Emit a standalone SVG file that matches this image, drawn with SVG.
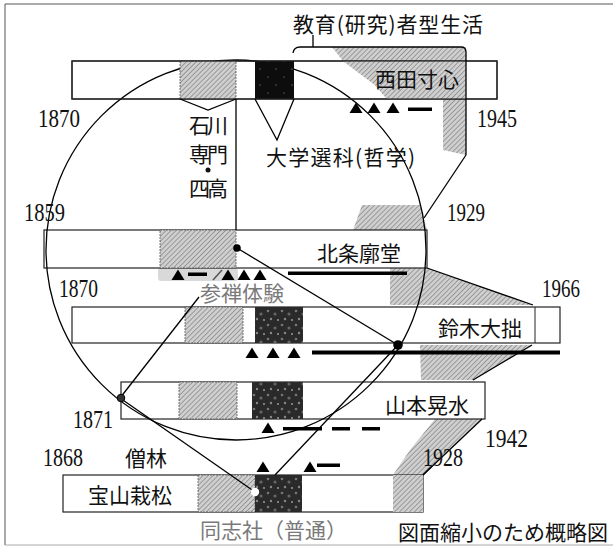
<svg xmlns="http://www.w3.org/2000/svg" width="613" height="547" viewBox="0 0 613 547">
<defs>
<pattern id="hatch" width="3.5" height="3.5" patternUnits="userSpaceOnUse" patternTransform="rotate(45)">
<rect width="3.5" height="3.5" fill="#cfcfcf"/>
<line x1="0" y1="0" x2="0" y2="3.5" stroke="#7d7d7d" stroke-width="1.3"/>
</pattern>
<pattern id="speck" width="14" height="14" patternUnits="userSpaceOnUse">
<rect width="14" height="14" fill="#2a2a2a"/>
<circle cx="2" cy="3" r="1.3" fill="#777"/>
<circle cx="9" cy="6" r="1.6" fill="#666"/>
<circle cx="5" cy="11" r="1.2" fill="#888"/>
<circle cx="12" cy="12" r="1" fill="#999"/>
</pattern>
<pattern id="speck2" width="16" height="16" patternUnits="userSpaceOnUse">
<rect width="16" height="16" fill="#0d0d0d"/>
<circle cx="4" cy="5" r="0.6" fill="#aaa"/>
<circle cx="12" cy="13" r="0.5" fill="#bbb"/>
</pattern>
<path id="tri" d="M0,-5.5 L6.5,5 L-6.5,5 Z" fill="#000"/>
</defs>
<style>
.bar{fill:#fff;stroke:#222;stroke-width:1.2}
.hb{fill:url(#hatch);stroke:#555;stroke-width:0.8;stroke-dasharray:2 1}
.zone{fill:url(#hatch);stroke:none}
.blk{fill:url(#speck);stroke:none}
.ln{fill:none;stroke:#000;stroke-width:1.3}
.dash{fill:#000}
.jp{font-family:"Noto Sans CJK JP","Noto Sans CJK SC",sans-serif;font-size:21px;fill:#111}
.num{font-family:"Liberation Serif",serif;font-size:26px;fill:#111}
.gr{fill:#7a7a7a}
</style>

<!-- frame -->
<g id="frame" fill="none" stroke="#555" stroke-width="1">
<line x1="5" y1="4" x2="613" y2="4"/>
<line x1="5" y1="4" x2="5" y2="545"/>
<line x1="5" y1="545" x2="613" y2="545" stroke="#aaa"/>
</g>

<!-- educational life zones -->
<g id="zones">
<polygon class="zone" points="332,47 466,47 466,155 443,150 443,99 387,99 375,85 343,61"/>
<polygon class="zone" points="362,205 420,205 427,230 353,230"/>
<polygon class="zone" points="390,268 427,268 533,305 390,305"/>
<polygon class="zone" points="420,345 532,345 473,380 421,380"/>
<polygon class="zone" points="435,419 482,419 423,475 423,512 393,512 393,475 410,450"/>
<rect x="158" y="268" width="80" height="13" rx="3" fill="#d9d9d9"/>
</g>

<!-- bars -->
<g id="node-nishida">
<rect class="bar" x="72" y="61" width="425" height="38" fill-opacity="0"/>
</g>
<g id="node-hojo">
<rect class="bar" x="44" y="230" width="383" height="38"/>
</g>
<g id="node-suzuki">
<rect class="bar" x="72" y="307" width="488" height="36"/>
<line x1="535" y1="307" x2="535" y2="343" stroke="#222" stroke-width="1"/>
</g>
<g id="node-yamamoto">
<rect class="bar" x="121" y="382" width="364" height="37"/>
</g>
<g id="node-hozan">
<rect class="bar" x="63" y="475" width="360" height="37"/>
</g>

<!-- zone parts inside bars -->
<g id="zones-over">
<polygon class="zone" points="343,61 466,61 466,99 387,99 375,85"/>
<rect class="zone" x="393" y="475" width="30" height="37"/>
</g>

<!-- circle -->
<g id="connectors">
<circle cx="236" cy="250" r="190" class="ln" stroke-width="1.2"/>
</g>

<!-- blocks -->
<g id="blocks">
<rect class="hb" x="180" y="61" width="56" height="38"/>
<rect x="255" y="61" width="39" height="38" fill="url(#speck2)"/>
<rect class="hb" x="160" y="230" width="76" height="38"/>
<rect class="hb" x="185" y="307" width="58" height="36"/>
<rect class="blk" x="255" y="307" width="48" height="36"/>
<rect class="hb" x="179" y="382" width="58" height="37"/>
<rect class="blk" x="252" y="382" width="51" height="37"/>
<rect class="hb" x="198" y="475" width="57" height="37"/>
<rect class="blk" x="255" y="475" width="47" height="37"/>
<rect x="72" y="61" width="425" height="38" fill="none" stroke="#222" stroke-width="1.2"/>
</g>

<!-- connector lines -->
<g id="connectors-lines" class="ln">
<path class="ln" d="M293,53 Q294,47 300,47 L461,47 Q466,47 466,52 L466,155"/>
<line class="ln" x1="313" y1="35" x2="313" y2="47"/>
<polyline class="ln" points="180,99 208,110 236,99"/>
<line class="ln" x1="236" y1="99" x2="236" y2="230"/>
<polyline class="ln" points="255,99 277,140 294,99"/>
<line class="ln" x1="466" y1="155" x2="424" y2="218"/>
<line class="ln" x1="237" y1="248" x2="398" y2="345"/>
<line class="ln" x1="398" y1="345" x2="275" y2="475"/>
<line class="ln" x1="120" y1="398" x2="199" y2="297"/>
<line class="ln" x1="120" y1="398" x2="255" y2="492"/>
<line class="ln" x1="423" y1="475" x2="432" y2="466" stroke-width="1"/>
<line class="ln" x1="427" y1="268" x2="533" y2="305" stroke-width="1"/>
<line class="ln" x1="532" y1="345" x2="473" y2="380" stroke-width="1"/>
<line class="ln" x1="482" y1="419" x2="423" y2="475" stroke-width="1"/>
</g>

<!-- dots -->
<g id="dots">
<circle cx="237" cy="248" r="3.8" fill="#000"/>
<circle cx="398" cy="345" r="4.8" fill="#000"/>
<circle cx="121" cy="398" r="3.8" fill="#333" stroke="#000" stroke-width="1"/>
<circle cx="255" cy="492" r="4.2" fill="#fff"/>
</g>

<!-- activity marks -->
<g id="marks">
<use href="#tri" x="356" y="108"/>
<use href="#tri" x="374" y="108"/>
<use href="#tri" x="393" y="108"/>
<rect class="dash" x="408" y="107.5" width="24" height="3.5"/>

<use href="#tri" x="178" y="275"/>
<rect class="dash" x="188" y="272.5" width="19" height="3.5"/>
<line x1="213" y1="280" x2="222" y2="270" stroke="#555" stroke-width="1.5"/>
<use href="#tri" x="228" y="275"/>
<use href="#tri" x="244" y="275"/>
<use href="#tri" x="260" y="275"/>
<rect class="dash" x="288" y="271.5" width="119" height="3.5"/>

<use href="#tri" x="252" y="353"/>
<use href="#tri" x="273" y="353"/>
<use href="#tri" x="294" y="353"/>
<rect class="dash" x="312" y="350.5" width="248" height="4"/>

<use href="#tri" x="268" y="428"/>
<rect class="dash" x="283" y="427" width="39" height="3.5"/>
<rect class="dash" x="332" y="427" width="18" height="3.5"/>
<rect class="dash" x="362" y="427" width="18" height="3.5"/>

<use href="#tri" x="263" y="467"/>
<use href="#tri" x="310" y="467"/>
<rect class="dash" x="317" y="463.5" width="23" height="3.5"/>
</g>

<!-- texts -->
<g id="labels">
<text class="jp" x="293" y="32" textLength="190" lengthAdjust="spacing">教育(研究)者型生活</text>
<text class="jp" x="375" y="87" font-size="22">西田寸心</text>
<text class="jp" x="189" y="133" font-size="17" textLength="39" lengthAdjust="spacing">石川</text>
<text class="jp" x="189" y="162" font-size="17" textLength="39" lengthAdjust="spacing">専門</text>
<circle cx="208" cy="170" r="2.5" fill="#111"/>
<text class="jp" x="189" y="196" font-size="17" textLength="39" lengthAdjust="spacing">四高</text>
<text class="jp" x="266" y="165" textLength="149" lengthAdjust="spacing">大学選科(哲学)</text>
<text class="jp" x="317" y="261" font-size="22">北条廓堂</text>
<text class="jp gr" x="200" y="301">参禅体験</text>
<text class="jp" x="438" y="336" font-size="22">鈴木大拙</text>
<text class="jp" x="385" y="413" font-size="22">山本晃水</text>
<text class="jp" x="125" y="466" font-size="20">僧林</text>
<text class="jp" x="88" y="503" font-size="22">宝山栽松</text>
<text class="jp gr" x="200" y="538" font-size="19">同志社（普通）</text>
<text class="jp" x="398" y="540">図面縮小のため概略図</text>

<text class="num" x="38" y="127" textLength="42" lengthAdjust="spacingAndGlyphs">1870</text>
<text class="num" x="477" y="127" textLength="40" lengthAdjust="spacingAndGlyphs">1945</text>
<text class="num" x="24" y="221" textLength="41" lengthAdjust="spacingAndGlyphs">1859</text>
<text class="num" x="447" y="221" textLength="38" lengthAdjust="spacingAndGlyphs">1929</text>
<text class="num" x="59" y="297" textLength="39" lengthAdjust="spacingAndGlyphs">1870</text>
<text class="num" x="542" y="297" textLength="38" lengthAdjust="spacingAndGlyphs">1966</text>
<text class="num" x="73" y="428" textLength="40" lengthAdjust="spacingAndGlyphs">1871</text>
<text class="num" x="485" y="447" textLength="43" lengthAdjust="spacingAndGlyphs">1942</text>
<text class="num" x="43" y="466" textLength="40" lengthAdjust="spacingAndGlyphs">1868</text>
<text class="num" x="423" y="466" textLength="40" lengthAdjust="spacingAndGlyphs">1928</text>
</g>
</svg>
